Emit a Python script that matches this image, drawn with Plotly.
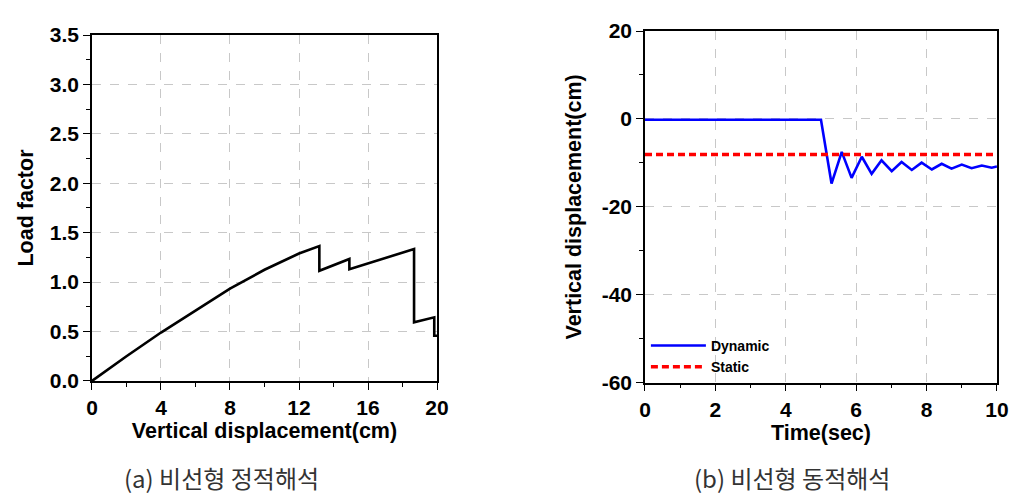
import plotly.graph_objects as go

# Left: nonlinear static analysis (load factor vs vertical displacement)
static_disp = [0.0, 2.0, 4.0, 6.0, 8.0, 10.0, 12.0, 13.18, 13.18, 14.92, 14.92, 18.67, 18.67, 19.84, 19.84, 20.0]
static_load = [0.0, 0.25, 0.49, 0.715, 0.935, 1.125, 1.29, 1.365, 1.115, 1.234, 1.13, 1.335, 0.594, 0.644, 0.458, 0.458]

# Right: nonlinear dynamic analysis (vertical displacement vs time)
dyn_time = [0.0, 5.0, 5.30, 5.59, 5.87, 6.16, 6.44, 6.72, 7.01, 7.29, 7.58, 7.86, 8.15, 8.43, 8.71, 9.0, 9.28, 9.57, 9.85, 10.0]
dyn_disp = [-0.2, -0.2, -14.7, -7.5, -13.4, -8.6, -12.5, -9.4, -11.9, -9.8, -11.6, -9.95, -11.5, -10.2, -11.3, -10.4, -11.2, -10.6, -11.1, -10.8]
stat_time = [0.0, 10.0]
stat_disp = [-8.1, -8.1]

left_xticks = [0, 4, 8, 12, 16, 20]
left_yticks = [0.0, 0.5, 1.0, 1.5, 2.0, 2.5, 3.0, 3.5]
left_ylabels = ["0.0", "0.5", "1.0", "1.5", "2.0", "2.5", "3.0", "3.5"]
right_xticks = [0, 2, 4, 6, 8, 10]
right_yticks = [20, 0, -20, -40, -60]
right_ylabels = ["20", "0", "-20", "-40", "-60"]

FONT = "Liberation Sans"
tickfont = dict(family=FONT, size=21, color="black", weight="bold")
titlefont = dict(family=FONT, size=21.5, color="black", weight="bold")

fig = go.Figure()
fig.add_trace(go.Scatter(x=static_disp, y=static_load, mode="lines",
                         line=dict(color="black", width=2.6), showlegend=False,
                         xaxis="x", yaxis="y"))
fig.add_trace(go.Scatter(x=dyn_time, y=dyn_disp, mode="lines", name="Dynamic",
                         line=dict(color="#0000ff", width=2.6), xaxis="x2", yaxis="y2"))
fig.add_trace(go.Scatter(x=stat_time, y=stat_disp, mode="lines", name="Static",
                         line=dict(color="#ff0000", width=3.5, dash="7px,4px"),
                         xaxis="x2", yaxis="y2"))

axis_common = dict(showline=True, linecolor="black", linewidth=1.5, mirror=True,
                   ticks="outside", ticklen=7, tickwidth=1.3, tickcolor="black",
                   showgrid=True, gridcolor="#c8c8c8", griddash="dash", gridwidth=1,
                   zeroline=False, tickfont=tickfont, automargin=False)

fig.update_layout(
    width=1022, height=496,
    margin=dict(l=0, r=0, t=0, b=0, autoexpand=False),
    paper_bgcolor="white", plot_bgcolor="white",
    xaxis=dict(domain=[0.0900, 0.4276], range=[0, 20], tickvals=left_xticks,
               title=dict(text="Vertical displacement(cm)", font=titlefont, standoff=2),
               minor=dict(dtick=2, tick0=0, ticks="outside", ticklen=4, tickcolor="black", showgrid=False),
               anchor="y", **axis_common),
    yaxis=dict(domain=[0.2319, 0.9294], range=[0, 3.5], tickvals=left_yticks, ticktext=left_ylabels,
               title=dict(text="Load factor", font=titlefont, standoff=10),
               minor=dict(dtick=0.25, tick0=0, ticks="outside", ticklen=4, tickcolor="black", showgrid=False),
               anchor="x", **axis_common),
    xaxis2=dict(domain=[0.6311, 0.9755], range=[0, 10], tickvals=right_xticks,
                title=dict(text="Time(sec)", font=titlefont, standoff=2),
                minor=dict(dtick=1, tick0=0, ticks="outside", ticklen=4, tickcolor="black", showgrid=False),
                anchor="y2", **axis_common),
    yaxis2=dict(domain=[0.2284, 0.9375], range=[-60, 20], tickvals=right_yticks, ticktext=right_ylabels,
                title=dict(text="Vertical displacement(cm)", font=titlefont, standoff=14),
                minor=dict(dtick=10, tick0=0, ticks="outside", ticklen=4, tickcolor="black", showgrid=False),
                anchor="x2", **axis_common),
    legend=dict(x=0.632, y=0.335, xanchor="left", yanchor="top",
                bgcolor="rgba(0,0,0,0)", borderwidth=0, itemwidth=55,
                tracegroupgap=0,
                font=dict(family=FONT, size=14, color="black", weight="bold")),
    annotations=[
        dict(text="(a) 비선형 정적해석", x=0.217, y=0.038, xref="paper", yref="paper",
             xanchor="center", yanchor="middle", showarrow=False,
             font=dict(family="Noto Sans CJK KR", size=24, color="#333333")),
        dict(text="(b) 비선형 동적해석", x=0.775, y=0.038, xref="paper", yref="paper",
             xanchor="center", yanchor="middle", showarrow=False,
             font=dict(family="Noto Sans CJK KR", size=24, color="#333333")),
    ],
)

fig.write_html("out.html", config={"displayModeBar": False},
               post_script="document.body.style.margin='0';")
